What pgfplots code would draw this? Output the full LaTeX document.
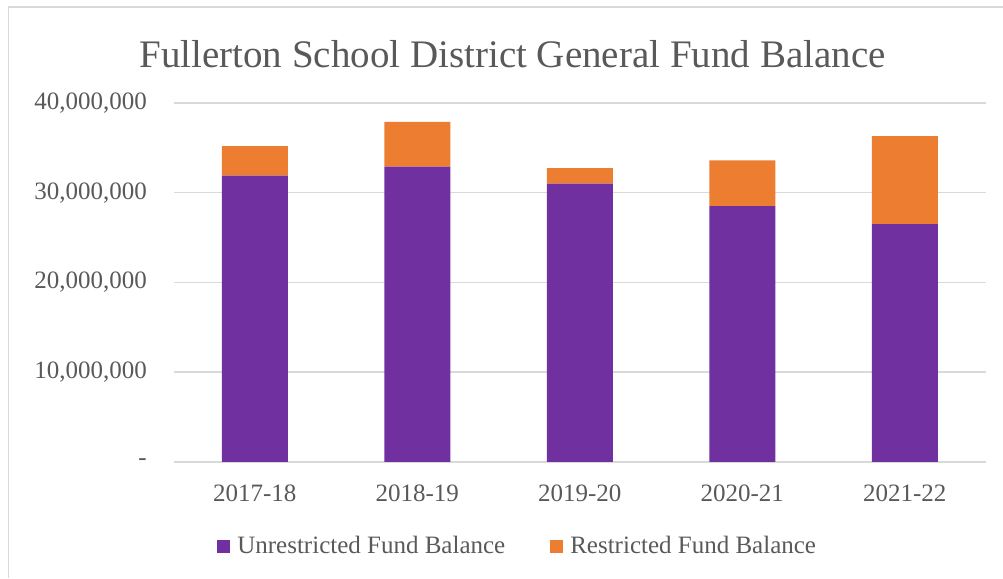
\documentclass[border=0pt]{standalone}
\usepackage{pgfplots}
\pgfplotsset{compat=1.18}
\usepackage{fontspec}
\setmainfont{Liberation Serif}
\definecolor{upurple}{HTML}{7030A0}
\definecolor{rorange}{HTML}{ED7D31}
\definecolor{txt}{HTML}{595959}
\definecolor{grd}{HTML}{D9D9D9}
\begin{document}
\begin{tikzpicture}[x=1pt,y=1pt]
\useasboundingbox (0,0) rectangle (1003,578);
\draw[grd, line width=1.3pt] (8.5,0) -- (8.5,571) -- (1003,571);
\node[anchor=base, text=txt, font=\fontsize{39}{45}\selectfont] at (512.5,510) {Fullerton School District General Fund Balance};
\begin{axis}[
  at={(173.5pt,116.2pt)}, anchor=south west,
  scale only axis, width=812.5pt, height=358.8pt,
  ybar stacked, bar width=66pt,
  xmin=-0.5, xmax=4.5, ymin=0, ymax=40000000,
  xtick={0,1,2,3,4},
  xticklabels={2017-18,2018-19,2019-20,2020-21,2021-22},
  ytick={0,10000000,20000000,30000000,40000000},
  yticklabels={{-\hspace{11pt}},{10,000,000},{20,000,000},{30,000,000},{40,000,000}},
  scaled y ticks=false,
  major tick length=0pt,
  ymajorgrids, grid style={grd, line width=1.3pt},
  axis x line*=bottom, axis y line*=left,
  x axis line style={grd, line width=1.5pt, -},
  y axis line style={draw=none},
  tick label style={text=txt, font=\fontsize{25}{30}\selectfont},
  yticklabel style={inner sep=0pt, anchor=east, xshift=-26.5pt},
  xticklabel style={inner sep=0pt, anchor=north, yshift=-23pt},
  legend style={at={(0.4224,-0.2347)}, anchor=center, draw=none, fill=none,
    legend columns=2, font=\fontsize{25}{30}\selectfont, text=txt,
    /tikz/every even column/.append style={column sep=45pt},
    nodes={inner sep=0pt}},
  legend cell align=left,
  legend image code/.code={\fill[#1] (0pt,-6.5pt) rectangle (13pt,6.5pt); \path (20pt,0pt);},
]
\addplot[fill=upurple, draw=none] coordinates {(0,31900000) (1,32900000) (2,31000000) (3,28500000) (4,26500000)};
\addplot[fill=rorange, draw=none] coordinates {(0,3300000) (1,5000000) (2,1750000) (3,5100000) (4,9800000)};
\legend{Unrestricted Fund Balance, Restricted Fund Balance}
\end{axis}
\end{tikzpicture}
\end{document}
